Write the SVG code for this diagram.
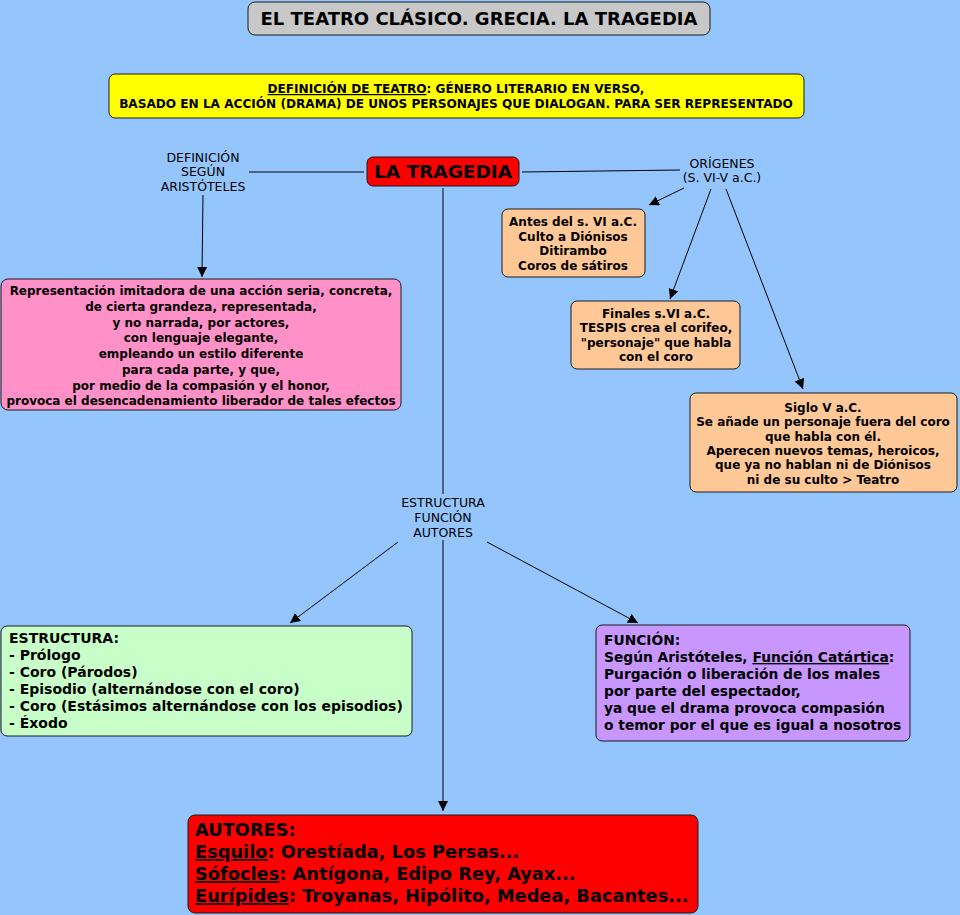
<svg xmlns="http://www.w3.org/2000/svg" width="960" height="915" viewBox="0 0 960 915">
<defs>
<style>
.b{stroke:#1a1a1a;stroke-width:1}
.t{font-family:"DejaVu Sans",Verdana,sans-serif;fill:#000}
.bd{font-weight:bold}
.c{text-anchor:middle}
.s12{font-size:12px}
.n{font-size:12.5px}
.s14{font-size:14px}
.s18{font-size:18px}
.ln{stroke:#000;stroke-width:1;fill:none}
</style>
<marker id="ar" viewBox="0 0 10 10" refX="10" refY="5" markerWidth="10" markerHeight="10" markerUnits="userSpaceOnUse" orient="auto">
<path d="M0,0 L10,5 L0,10 Z" fill="#000"/>
</marker>
</defs>
<rect width="960" height="915" fill="#94c6fd"/>
<g id="connectors">
<line class="ln" x1="249" y1="172" x2="364" y2="172"/>
<line class="ln" x1="522" y1="172" x2="680" y2="170"/>
<line class="ln" x1="203" y1="195" x2="202" y2="277" marker-end="url(#ar)"/>
<line class="ln" x1="684" y1="188" x2="649" y2="205" marker-end="url(#ar)"/>
<line class="ln" x1="711" y1="189" x2="670" y2="299" marker-end="url(#ar)"/>
<line class="ln" x1="726" y1="189" x2="803" y2="389" marker-end="url(#ar)"/>
<line class="ln" x1="443" y1="188" x2="443" y2="494"/>
<line class="ln" x1="443" y1="540" x2="443" y2="811" marker-end="url(#ar)"/>
<line class="ln" x1="398" y1="542" x2="290" y2="623" marker-end="url(#ar)"/>
<line class="ln" x1="487" y1="542" x2="638" y2="623" marker-end="url(#ar)"/>
</g>
<g id="title">
<rect class="b" x="248" y="2" width="462" height="33" rx="7" fill="#c8c8c8"/>
<text class="t bd c s18" x="479" y="25">EL TEATRO CLÁSICO. GRECIA. LA TRAGEDIA</text>
</g>
<g id="definicion-teatro">
<rect class="b" x="109" y="74" width="695" height="44" rx="6" fill="#ffff00"/>
<text class="t bd c" style="font-size:12.1px" x="456" y="93"><tspan text-decoration="underline">DEFINICIÓN DE TEATRO</tspan>: GÉNERO LITERARIO EN VERSO,</text>
<text class="t bd c" style="font-size:12.1px" x="456" y="108">BASADO EN LA ACCIÓN (DRAMA) DE UNOS PERSONAJES QUE DIALOGAN. PARA SER REPRESENTADO</text>
</g>
<g id="tragedia">
<rect class="b" x="367" y="157" width="152" height="29" rx="6" fill="#ff0000"/>
<text class="t bd c" style="font-size:18.5px" x="443" y="178">LA TRAGEDIA</text>
</g>
<g id="label-aristoteles">
<text class="t c n" x="203" y="162">DEFINICIÓN</text>
<text class="t c n" x="203" y="176">SEGÚN</text>
<text class="t c n" x="203" y="191">ARISTÓTELES</text>
</g>
<g id="label-origenes">
<text class="t c n" x="722" y="168">ORÍGENES</text>
<text class="t c n" x="722" y="182">(S. VI-V a.C.)</text>
</g>
<g id="aristoteles">
<rect class="b" x="1" y="279" width="400" height="131" rx="7" fill="#ff91c8"/>
<g class="t bd c s12">
<text x="201" y="295">Representación imitadora de una acción seria, concreta,</text>
<text x="201" y="311">de cierta grandeza, representada,</text>
<text x="201" y="327">y no narrada, por actores,</text>
<text x="201" y="342">con lenguaje elegante,</text>
<text x="201" y="358">empleando un estilo diferente</text>
<text x="201" y="374">para cada parte, y que,</text>
<text x="201" y="390">por medio de la compasión y el honor,</text>
<text x="201" y="405">provoca el desencadenamiento liberador de tales efectos</text>
</g>
</g>
<g id="antes">
<rect class="b" x="502" y="209" width="143" height="68" rx="6" fill="#ffc896"/>
<g class="t bd c s12">
<text x="573" y="226">Antes del s. VI a.C.</text>
<text x="573" y="241">Culto a Diónisos</text>
<text x="573" y="255">Ditirambo</text>
<text x="573" y="270">Coros de sátiros</text>
</g>
</g>
<g id="finales">
<rect class="b" x="571" y="301" width="169" height="68" rx="6" fill="#ffc896"/>
<g class="t bd c s12">
<text x="656" y="318">Finales s.VI a.C.</text>
<text x="656" y="332">TESPIS crea el corifeo,</text>
<text x="656" y="347">"personaje" que habla</text>
<text x="656" y="361">con el coro</text>
</g>
</g>
<g id="siglo-v">
<rect class="b" x="690" y="393" width="267" height="99" rx="6" fill="#ffc896"/>
<g class="t bd c s12">
<text x="823" y="412">Siglo V a.C.</text>
<text x="823" y="426">Se añade un personaje fuera del coro</text>
<text x="823" y="441">que habla con él.</text>
<text x="823" y="455">Aperecen nuevos temas, heroicos,</text>
<text x="823" y="469">que ya no hablan ni de Diónisos</text>
<text x="823" y="484">ni de su culto &gt; Teatro</text>
</g>
</g>
<g id="label-estructura">
<text class="t c n" x="443" y="507">ESTRUCTURA</text>
<text class="t c n" x="443" y="522">FUNCIÓN</text>
<text class="t c n" x="443" y="537">AUTORES</text>
</g>
<g id="estructura">
<rect class="b" x="1" y="626" width="411" height="110" rx="6" fill="#c8ffc8"/>
<g class="t bd s14">
<text x="9" y="643">ESTRUCTURA:</text>
<text x="9" y="660">- Prólogo</text>
<text x="9" y="677">- Coro (Párodos)</text>
<text x="9" y="694">- Episodio (alternándose con el coro)</text>
<text x="9" y="711">- Coro (Estásimos alternándose con los episodios)</text>
<text x="9" y="728">- Éxodo</text>
</g>
</g>
<g id="funcion">
<rect class="b" x="596" y="625" width="314" height="116" rx="6" fill="#c896ff"/>
<g class="t bd" style="font-size:13.8px">
<text x="604" y="645">FUNCIÓN:</text>
<text x="604" y="662">Según Aristóteles, <tspan text-decoration="underline">Función Catártica</tspan>:</text>
<text x="604" y="679">Purgación o liberación de los males</text>
<text x="604" y="696">por parte del espectador,</text>
<text x="604" y="713">ya que el drama provoca compasión</text>
<text x="604" y="730">o temor por el que es igual a nosotros</text>
</g>
</g>
<g id="autores">
<rect class="b" x="188" y="815" width="510" height="98" rx="7" fill="#ff0000"/>
<g class="t bd" style="font-size:17.8px">
<text x="195" y="836">AUTORES:</text>
<text x="195" y="858"><tspan text-decoration="underline">Esquilo</tspan>: Orestíada, Los Persas...</text>
<text x="195" y="880"><tspan text-decoration="underline">Sófocles</tspan>: Antígona, Edipo Rey, Ayax...</text>
<text x="195" y="902"><tspan text-decoration="underline">Eurípides</tspan>: Troyanas, Hipólito, Medea, Bacantes...</text>
</g>
</g>
</svg>
